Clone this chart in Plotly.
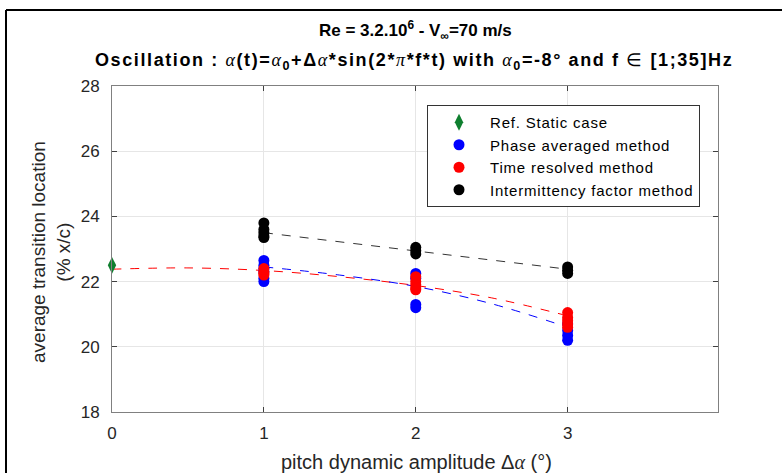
import plotly.graph_objects as go

# ---- data ----
static_x = [0]
static_y = [22.5]

phase_x = [1, 1, 1, 1, 1, 1, 2, 2, 2, 2, 3, 3, 3, 3]
phase_y = [22.65, 22.5, 22.4, 22.3, 22.1, 22.0, 22.25, 22.1, 21.3, 21.2, 20.7, 20.5, 20.35, 20.2]

time_x = [1, 1, 1, 1, 2, 2, 2, 2, 2, 3, 3, 3, 3, 3]
time_y = [22.4, 22.3, 22.25, 22.2, 22.15, 22.0, 21.9, 21.8, 21.75, 21.05, 20.9, 20.8, 20.7, 20.6]

inter_x = [1, 1, 1, 1, 1, 2, 2, 2, 3, 3, 3]
inter_y = [23.8, 23.6, 23.5, 23.4, 23.35, 23.05, 22.95, 22.85, 22.45, 22.35, 22.25]

# dashed trend lines
fit_red_x = [0, 0.5, 1, 1.5, 2, 2.5, 3]
fit_red_y = [22.38, 22.42, 22.34, 22.15, 21.88, 21.5, 20.95]
fit_blue_x = [1, 1.5, 2, 2.5, 3]
fit_blue_y = [22.45, 22.2, 21.85, 21.32, 20.6]
fit_black_x = [1, 3]
fit_black_y = [23.5, 22.38]

xticks = [0, 1, 2, 3]
yticks = [18, 20, 22, 24, 26, 28]

legend_names = ["Ref. Static case", "Phase averaged method",
                "Time resolved method", "Intermittency factor method"]

FONT = "Liberation Sans, Arial, sans-serif"
GREEK = '<span style="font-family:\'Liberation Serif\',serif;font-style:italic;font-weight:normal">{}</span>'
A = GREEK.format("α")
PI = GREEK.format("π")

def spaced(t, s):
    return '<span style="letter-spacing:%spx">%s</span>' % (s, t)

fig = go.Figure()

fig.add_trace(go.Scatter(x=fit_red_x, y=fit_red_y, mode="lines", line_shape="spline",
                         line=dict(color="red", width=1, dash="dash"), showlegend=False, hoverinfo="skip"))
fig.add_trace(go.Scatter(x=fit_blue_x, y=fit_blue_y, mode="lines", line_shape="spline",
                         line=dict(color="blue", width=1, dash="dash"), showlegend=False, hoverinfo="skip"))
fig.add_trace(go.Scatter(x=fit_black_x, y=fit_black_y, mode="lines",
                         line=dict(color="#333333", width=1, dash="dash"), showlegend=False, hoverinfo="skip"))

fig.add_trace(go.Scatter(x=static_x, y=static_y, mode="markers", name=spaced(legend_names[0], 0.8),
                         cliponaxis=False,
                         marker=dict(symbol="diamond-tall", size=12, color="#0f7f2f")))
fig.add_trace(go.Scatter(x=phase_x, y=phase_y, mode="markers", name=spaced(legend_names[1], 0.8),
                         marker=dict(symbol="circle", size=11, color="blue")))
fig.add_trace(go.Scatter(x=time_x, y=time_y, mode="markers", name=spaced(legend_names[2], 0.8),
                         marker=dict(symbol="circle", size=11, color="red")))
fig.add_trace(go.Scatter(x=inter_x, y=inter_y, mode="markers", name=spaced(legend_names[3], 0.8),
                         marker=dict(symbol="circle", size=11, color="black")))

L, R, T, B = 112, 64, 86, 61
W, H = 782, 473
pw, ph = W - L - R, H - T - B

def px(xp):
    return (xp - L) / pw

def py(yp):
    return (H - B - yp) / ph

axis_common = dict(showline=True, linecolor="#808080", linewidth=1, mirror="ticks",
                   ticks="inside", ticklen=5, tickcolor="#404040",
                   showgrid=True, gridcolor="#e6e6e6", gridwidth=1, zeroline=False,
                   tickfont=dict(family=FONT, size=17, color="#262626"))

fig.update_layout(
    width=W, height=H,
    margin=dict(l=L, r=R, t=T, b=B),
    paper_bgcolor="white", plot_bgcolor="white",
    font=dict(family=FONT, color="#262626"),
    xaxis=dict(range=[0, 3.99], tickvals=xticks, ticktext=[str(v) for v in xticks],
               ticklabelstandoff=6, **axis_common),
    yaxis=dict(range=[18, 28], tickvals=yticks, ticktext=[str(v) for v in yticks],
               ticklabelstandoff=8, **axis_common),
    legend=dict(x=px(427), y=py(105), xanchor="left", yanchor="top",
                bgcolor="white", bordercolor="#333333", borderwidth=1,
                font=dict(family=FONT, size=15, color="black"),
                itemwidth=52, tracegroupgap=0),
    showlegend=True,
)

def ann(text, x, y, size, color="black", angle=0):
    return dict(text=text, x=px(x), y=py(y), xref="paper", yref="paper", showarrow=False,
                xanchor="center", yanchor="middle", textangle=angle,
                font=dict(family=FONT, size=size, color=color))

line2 = ("<b>Oscillation : </b>" + A + "<b>(t)=</b>" + A + "<b><sub>0</sub>+Δ</b>" + A +
         "<b>*sin(2*</b>" + PI + "<b>*f*t) with </b>" + A + "<b><sub>0</sub>=-8° and f </b>∈<b> [1;35]Hz</b>")

annotations = [
    ann("<b>Re = 3.2.10<sup>6</sup> - V<sub>∞</sub>=70 m/s</b>", 415, 30, 17),
    ann(spaced(line2, 1.6), 414, 61, 18),
    ann("average transition location<br>(% x/c)", 51, 252, 19, "#262626", -90),
    ann("pitch dynamic amplitude Δ" + GREEK.format("α") + " (°)", 416, 462, 20, "#262626"),
]
fig.update_layout(annotations=annotations)

# black frame lines (top and left) of the original figure
fig.add_shape(type="line", xref="paper", yref="paper", x0=px(6), x1=px(782), y0=py(10), y1=py(10),
              line=dict(color="black", width=2))
fig.add_shape(type="line", xref="paper", yref="paper", x0=px(6), x1=px(6), y0=py(10), y1=py(473),
              line=dict(color="black", width=2))

fig.write_html("out.html")
